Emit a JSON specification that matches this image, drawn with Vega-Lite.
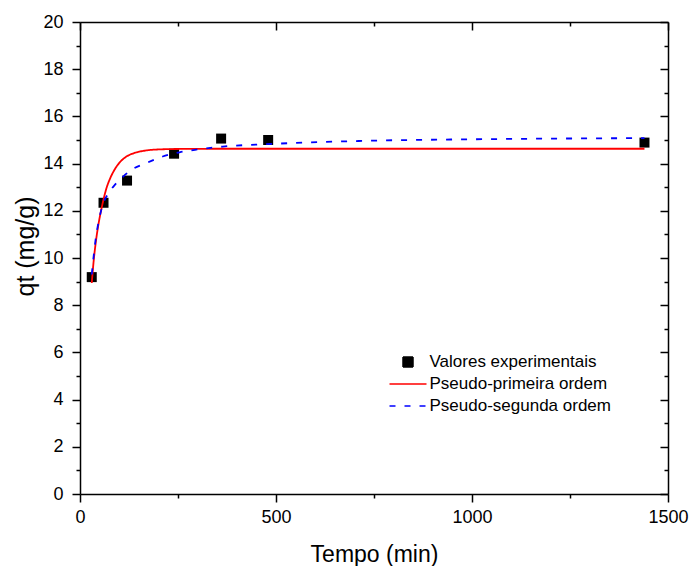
{
  "$schema": "https://vega.github.io/schema/vega-lite/v6.json",
  "width": 588,
  "height": 472,
  "autosize": {"type": "none"},
  "padding": {"left": 80, "top": 22, "right": 25, "bottom": 72},
  "background": "white",
  "config": {
    "view": {"stroke": null},
    "font": "Liberation Sans",
    "axis": {
      "grid": false,
      "domainColor": "black",
      "domainWidth": 1.5,
      "tickColor": "black",
      "tickWidth": 1.5,
      "labelColor": "black",
      "titleColor": "black",
      "labelFont": "Liberation Sans",
      "titleFont": "Liberation Sans",
      "titleFontWeight": "normal",
      "labelFontSize": 18,
      "labelFlush": false,
      "labelOverlap": false
    }
  },
  "datasets": {
    "pts": [
      {"t": 30, "q": 9.19, "series": "Valores experimentais"},
      {"t": 60, "q": 12.34, "series": "Valores experimentais"},
      {"t": 120, "q": 13.28, "series": "Valores experimentais"},
      {"t": 240, "q": 14.42, "series": "Valores experimentais"},
      {"t": 360, "q": 15.06, "series": "Valores experimentais"},
      {"t": 480, "q": 15.0, "series": "Valores experimentais"},
      {"t": 1440, "q": 14.89, "series": "Valores experimentais"}
    ],
    "fits": [
      {"t": 30, "q": 8.94, "series": "Pseudo-primeira ordem"},
      {"t": 35, "q": 9.9, "series": "Pseudo-primeira ordem"},
      {"t": 41, "q": 10.76, "series": "Pseudo-primeira ordem"},
      {"t": 47, "q": 11.42, "series": "Pseudo-primeira ordem"},
      {"t": 54, "q": 12.03, "series": "Pseudo-primeira ordem"},
      {"t": 60, "q": 12.48, "series": "Pseudo-primeira ordem"},
      {"t": 67, "q": 12.93, "series": "Pseudo-primeira ordem"},
      {"t": 75, "q": 13.3, "series": "Pseudo-primeira ordem"},
      {"t": 84, "q": 13.62, "series": "Pseudo-primeira ordem"},
      {"t": 95, "q": 13.92, "series": "Pseudo-primeira ordem"},
      {"t": 109, "q": 14.18, "series": "Pseudo-primeira ordem"},
      {"t": 125, "q": 14.36, "series": "Pseudo-primeira ordem"},
      {"t": 143, "q": 14.47, "series": "Pseudo-primeira ordem"},
      {"t": 170, "q": 14.56, "series": "Pseudo-primeira ordem"},
      {"t": 200, "q": 14.6, "series": "Pseudo-primeira ordem"},
      {"t": 254, "q": 14.62, "series": "Pseudo-primeira ordem"},
      {"t": 400, "q": 14.63, "series": "Pseudo-primeira ordem"},
      {"t": 1440, "q": 14.63, "series": "Pseudo-primeira ordem"},
      {"t": 30, "q": 9.3, "series": "Pseudo-segunda ordem"},
      {"t": 35, "q": 10.1, "series": "Pseudo-segunda ordem"},
      {"t": 40, "q": 10.8, "series": "Pseudo-segunda ordem"},
      {"t": 47, "q": 11.5, "series": "Pseudo-segunda ordem"},
      {"t": 58, "q": 12.25, "series": "Pseudo-segunda ordem"},
      {"t": 75, "q": 12.8, "series": "Pseudo-segunda ordem"},
      {"t": 90, "q": 13.12, "series": "Pseudo-segunda ordem"},
      {"t": 110, "q": 13.45, "series": "Pseudo-segunda ordem"},
      {"t": 130, "q": 13.72, "series": "Pseudo-segunda ordem"},
      {"t": 169, "q": 14.02, "series": "Pseudo-segunda ordem"},
      {"t": 211, "q": 14.3, "series": "Pseudo-segunda ordem"},
      {"t": 254, "q": 14.48, "series": "Pseudo-segunda ordem"},
      {"t": 300, "q": 14.6, "series": "Pseudo-segunda ordem"},
      {"t": 364, "q": 14.72, "series": "Pseudo-segunda ordem"},
      {"t": 484, "q": 14.83, "series": "Pseudo-segunda ordem"},
      {"t": 740, "q": 14.97, "series": "Pseudo-segunda ordem"},
      {"t": 1000, "q": 15.03, "series": "Pseudo-segunda ordem"},
      {"t": 1440, "q": 15.08, "series": "Pseudo-segunda ordem"}
    ]
  },
  "layer": [
    {
      "data": {"name": "pts"},
      "mark": {"type": "point", "filled": true, "opacity": 1, "size": 100},
      "encoding": {
        "x": {
          "field": "t", "type": "quantitative",
          "scale": {"domain": [0, 1500], "nice": false, "zero": false},
          "axis": {
            "orient": "bottom",
            "values": [0, 250, 500, 750, 1000, 1250, 1500],
            "format": "d",
            "labelExpr": "datum.value % 500 === 0 ? datum.label : ''",
            "tickSize": {"condition": {"test": "datum.value % 500 === 0", "value": 8}, "value": 4},
            "labelPadding": 6,
            "title": "Tempo (min)",
            "titleFontSize": 23,
            "titlePadding": 17
          }
        },
        "y": {
          "field": "q", "type": "quantitative",
          "scale": {"domain": [0, 20], "nice": false, "zero": false},
          "axis": {
            "orient": "left",
            "values": [0, 1, 2, 3, 4, 5, 6, 7, 8, 9, 10, 11, 12, 13, 14, 15, 16, 17, 18, 19, 20],
            "format": "d",
            "labelExpr": "datum.value % 2 === 0 ? datum.label : ''",
            "tickSize": {"condition": {"test": "datum.value % 2 === 0", "value": 8}, "value": 4},
            "labelPadding": 9,
            "title": "qt (mg/g)",
            "titleFontSize": 25,
            "titlePadding": 4,
            "titleY": 224
          }
        },
        "color": {
          "field": "series", "type": "nominal",
          "scale": {
            "domain": ["Valores experimentais", "Pseudo-primeira ordem", "Pseudo-segunda ordem"],
            "range": ["black", "#FF0000", "#0000FF"]
          },
          "legend": {
            "orient": "none",
            "legendX": 319.5,
            "legendY": 331.5,
            "title": null,
            "labelFontSize": 17,
            "labelFont": "Liberation Sans",
            "labelColor": "black",
            "labelLimit": 0,
            "symbolSize": 100,
            "symbolStrokeWidth": 1.5,
            "labelOffset": 13,
            "rowPadding": 4,
            "encode": {
              "symbols": {
                "update": {
                  "shape": {"scale": "shape", "field": "value"},
                  "fill": {"scale": "color", "field": "value"},
                  "stroke": {"scale": "color", "field": "value"},
                  "strokeDash": {"scale": "strokeDash", "field": "value"},
                  "opacity": {"value": 1}
                }
              }
            }
          }
        },
        "shape": {
          "field": "series", "type": "nominal",
          "scale": {
            "domain": ["Valores experimentais", "Pseudo-primeira ordem", "Pseudo-segunda ordem"],
            "range": ["square", "M-3.7,0H3.7", "M-3.7,0H3.7"]
          },
          "legend": null
        }
      }
    },
    {
      "data": {"name": "fits"},
      "mark": {"type": "line", "strokeWidth": 1.8, "interpolate": "monotone"},
      "encoding": {
        "x": {
          "field": "t", "type": "quantitative",
          "axis": {
            "orient": "top",
            "values": [0, 250, 500, 750, 1000, 1250, 1500],
            "labels": false,
            "title": null,
            "tickSize": {"condition": {"test": "datum.value % 500 === 0", "value": -8}, "value": -4}
          }
        },
        "y": {
          "field": "q", "type": "quantitative",
          "axis": {
            "orient": "right",
            "values": [0, 1, 2, 3, 4, 5, 6, 7, 8, 9, 10, 11, 12, 13, 14, 15, 16, 17, 18, 19, 20],
            "labels": false,
            "title": null,
            "tickSize": {"condition": {"test": "datum.value % 2 === 0", "value": -8}, "value": -4}
          }
        },
        "color": {"field": "series", "type": "nominal"},
        "strokeDash": {
          "field": "series", "type": "nominal",
          "scale": {
            "domain": ["Valores experimentais", "Pseudo-primeira ordem", "Pseudo-segunda ordem"],
            "range": [[1, 0], [1, 0], [6, 9]]
          },
          "legend": null
        }
      }
    }
  ],
  "resolve": {"axis": {"x": "independent", "y": "independent"}}
}
